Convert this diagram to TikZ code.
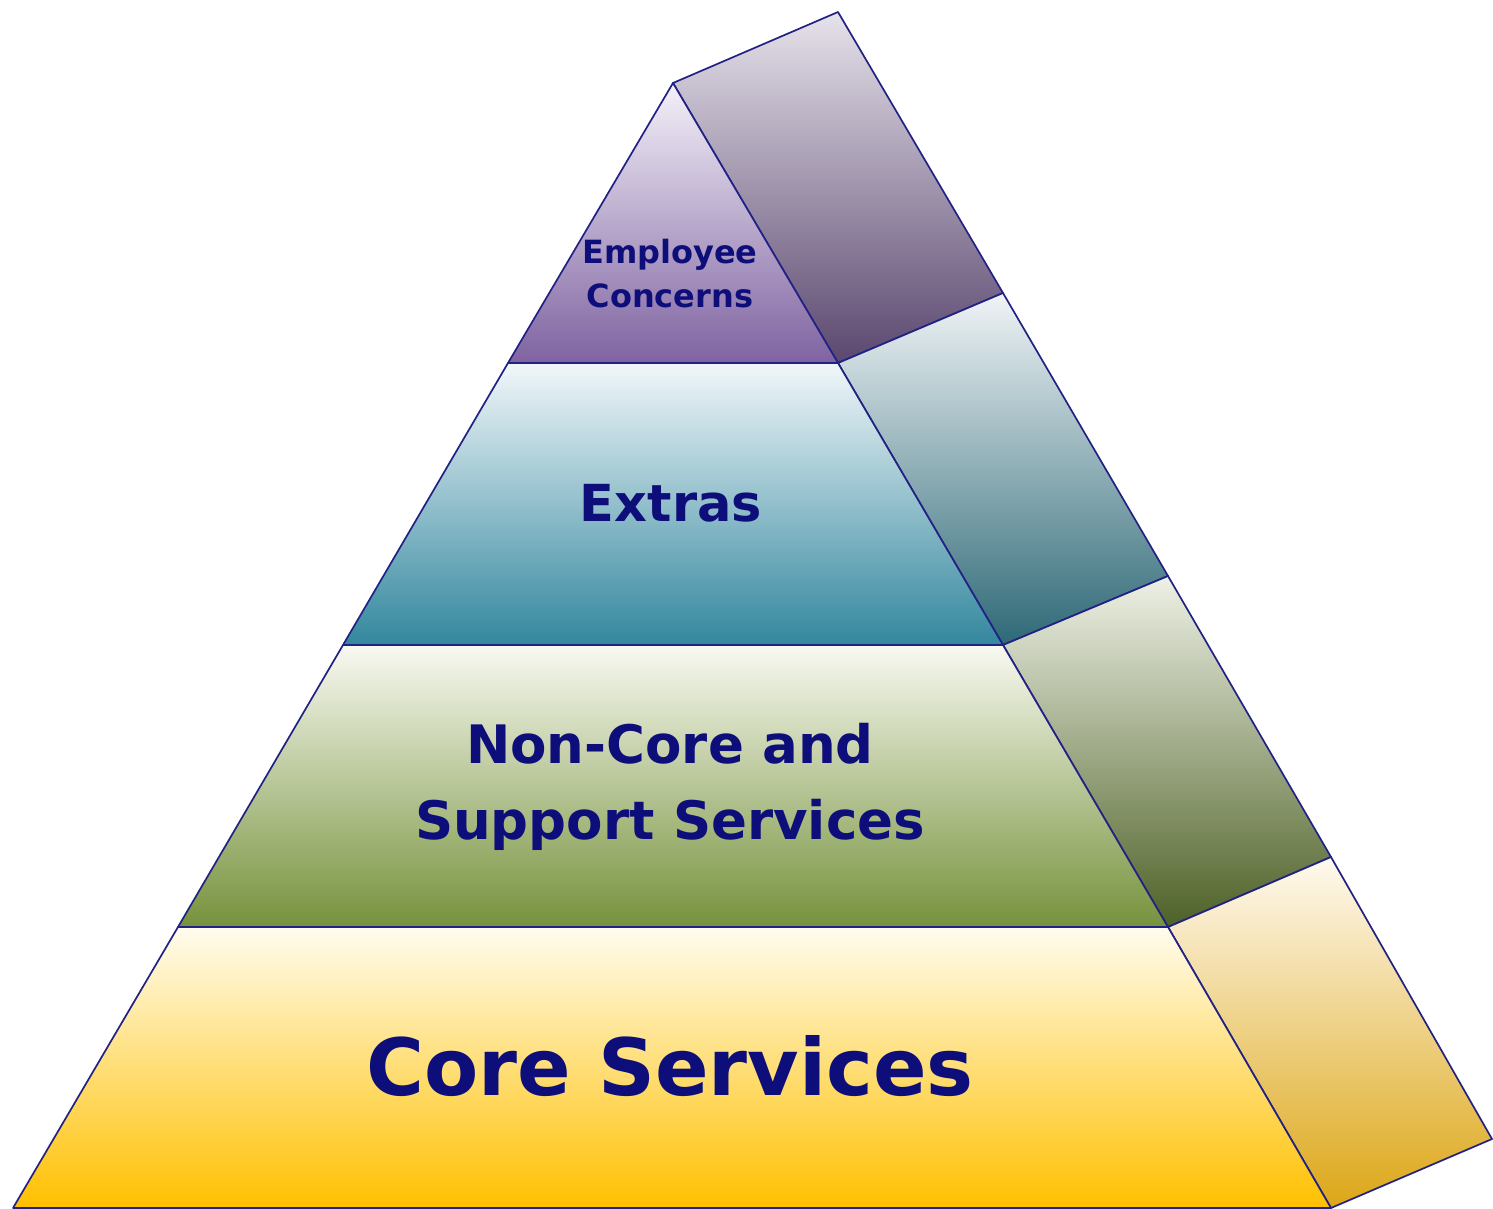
\documentclass[tikz,border=0pt]{standalone}
\usepackage{fontspec}
\setmainfont{DejaVu Sans}
\definecolor{txt}{HTML}{0E0E7A}
\definecolor{edge}{HTML}{222285}
\definecolor{pTop}{HTML}{F4F1F8}\definecolor{pBot}{HTML}{7F63A1}
\definecolor{tTop}{HTML}{F1F7F9}\definecolor{tBot}{HTML}{33879E}
\definecolor{gTop}{HTML}{F8F9F1}\definecolor{gBot}{HTML}{76923C}
\definecolor{yTop}{HTML}{FFFCEE}\definecolor{yBot}{HTML}{FFC000}
\definecolor{psTop}{HTML}{E6E2EA}\definecolor{psBot}{HTML}{5A476F}
\definecolor{tsTop}{HTML}{F0F4F6}\definecolor{tsBot}{HTML}{2E6976}
\definecolor{gsTop}{HTML}{EEF1E6}\definecolor{gsBot}{HTML}{4E6127}
\definecolor{ysTop}{HTML}{FFFAF0}\definecolor{ysBot}{HTML}{DCA616}
\tikzset{face/.style={draw=edge,line width=1.7pt,line join=round},
  lbl/.style={text=txt,font=\bfseries,align=center,inner sep=0pt}}
\begin{document}
\begin{tikzpicture}[x=1pt,y=-1pt]
\useasboundingbox (0,0) rectangle (1493,1209);
% side faces
\shadedraw[face,top color=psTop,bottom color=psBot] (673,83) -- (838,12) -- (1003,293) -- (838,363) -- cycle;
\shadedraw[face,top color=tsTop,bottom color=tsBot] (838,363) -- (1003,293) -- (1168,576) -- (1003,645) -- cycle;
\shadedraw[face,top color=gsTop,bottom color=gsBot] (1003,645) -- (1168,576) -- (1331,857) -- (1168,927) -- cycle;
\shadedraw[face,top color=ysTop,bottom color=ysBot] (1168,927) -- (1331,857) -- (1492,1139) -- (1331,1208) -- cycle;
% front faces
\shadedraw[face,top color=pTop,bottom color=pBot] (673,83) -- (838,363) -- (508,363) -- cycle;
\shadedraw[face,top color=tTop,bottom color=tBot] (508,363) -- (838,363) -- (1003,645) -- (343,645) -- cycle;
\shadedraw[face,top color=gTop,bottom color=gBot] (343,645) -- (1003,645) -- (1168,927) -- (178,927) -- cycle;
\shadedraw[face,top color=yTop,bottom color=yBot] (178,927) -- (1168,927) -- (1331,1208) -- (13,1208) -- cycle;
% labels
\node[lbl,font=\bfseries\fontsize{32}{44}\selectfont] (emp) at (670,274) {Employee\\Concerns};
\node[lbl,font=\bfseries\fontsize{51}{70}\selectfont] (ext) at (671,503) {Extras};
\node[lbl,font=\bfseries\fontsize{53}{76}\selectfont] (non) at (670,787) {Non-Core and\\Support Services};
\node[lbl,font=\bfseries\fontsize{79}{90}\selectfont] (core) at (670,1066) {Core Services};
\end{tikzpicture}
\end{document}
